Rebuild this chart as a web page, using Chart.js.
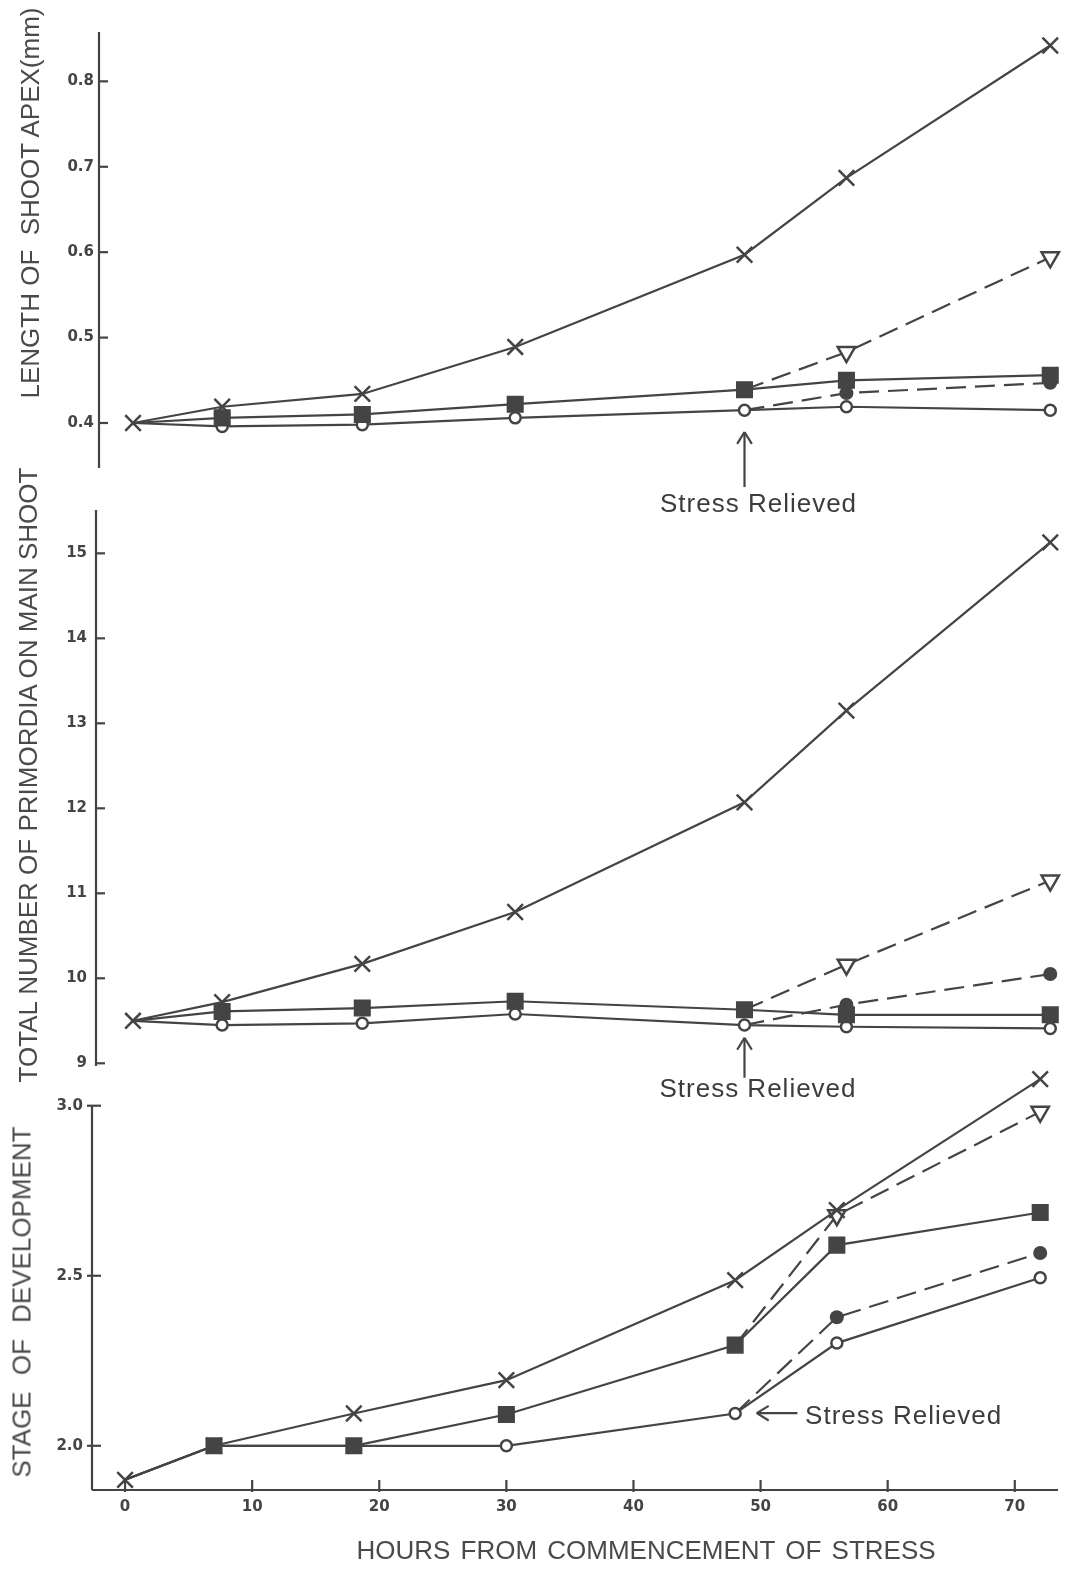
<!DOCTYPE html>
<html>
<head>
<meta charset="utf-8">
<title>Shoot apex growth after stress</title>
<script src="https://cdn.jsdelivr.net/npm/chart.js@4.4.1/dist/chart.umd.min.js"></script>
<style>
    html, body { margin: 0; padding: 0; background: #ffffff; }
    #page { position: relative; width: 1068px; height: 1570px; overflow: hidden; background: #ffffff; }
    #page canvas { position: absolute; left: 0; top: 0; }
    .ytitle, .xtitle {
        position: absolute;
        font-family: "Liberation Sans", Arial, sans-serif;
        font-size: 26px;
        color: #4a4a4a;
        white-space: nowrap;
    }
    .ytitle { transform: translate(-50%, -50%) rotate(-90deg); }
    .xtitle { transform: translate(-50%, -50%); word-spacing: 3px; }
</style>
</head>
<body>
<div id="page">
    <canvas id="apex-chart" width="1068" height="1570"></canvas>
    <canvas id="primordia-chart" width="1068" height="1570"></canvas>
    <canvas id="stage-chart" width="1068" height="1570"></canvas>
    <div class="ytitle" style="left:30px; top:203px;">LENGTH OF&nbsp; SHOOT APEX(mm)</div>
    <div class="ytitle" style="left:28px; top:775px;">TOTAL NUMBER OF PRIMORDIA ON MAIN SHOOT</div>
    <div class="ytitle" style="left:22px; top:1302px; word-spacing:9px;">STAGE OF DEVELOPMENT</div>
    <div class="xtitle" style="left:646px; top:1550px;">HOURS FROM COMMENCEMENT OF STRESS</div>
</div>
<script>
"use strict";

// hours at which samples were taken; the relief branches start at 48 h
const hours = [0, 7, 18, 30, 48, 56, 72];
const reliefHours = [48, 56, 72];

// length of shoot apex (mm)
const apexCross = [0.400, 0.419, 0.434, 0.489, 0.597, 0.687, 0.842];
const apexSquare = [0.400, 0.406, 0.410, 0.422, 0.439, 0.450, 0.456];
const apexCircle = [0.400, 0.396, 0.398, 0.406, 0.415, 0.419, 0.415];
const apexTriangle = [0.483, 0.594];
const apexDot = [0.435, 0.447];

// total number of primordia on main shoot
const primCross = [9.50, 9.72, 10.17, 10.78, 12.07, 13.15, 15.13];
const primSquare = [9.50, 9.61, 9.65, 9.73, 9.63, 9.57, 9.57];
const primCircle = [9.50, 9.45, 9.47, 9.58, 9.45, 9.43, 9.41];
const primTriangle = [10.16, 11.15];
const primDot = [9.69, 10.05];

// stage of development
const stageCross = [1.90, 2.00, 2.095, 2.193, 2.487, 2.693, 3.078];
const stageSquare = [1.90, 2.00, 2.00, 2.092, 2.296, 2.590, 2.686];
const stageCircle = [1.90, 2.00, 2.00, 2.00, 2.095, 2.302, 2.494];
const stageTriangle = [2.678, 2.982];
const stageDot = [2.378, 2.567];

// tick labels
const hourTicks = [0, 10, 20, 30, 40, 50, 60, 70];
const apexTicks = [0.4, 0.5, 0.6, 0.7, 0.8];
const primTicks = [9, 10, 11, 12, 13, 14, 15];
const stageTicks = [2.0, 2.5, 3.0];

const noteText = "Stress Relieved";
const ink = "#444444";

const markers = {
    cross:    { pointStyle: "crossRot", pointRadius: 11, pointBorderWidth: 2.5, pointBackgroundColor: ink },
    square:   { pointStyle: "rect", pointRadius: 11, pointBorderWidth: 1.5, pointBackgroundColor: ink },
    circle:   { pointStyle: "circle", pointRadius: 5.5, pointBorderWidth: 2.5, pointBackgroundColor: "#ffffff" },
    dot:      { pointStyle: "circle", pointRadius: 7, pointBorderWidth: 0, pointBackgroundColor: ink },
    triangle: { pointStyle: "triangle", pointRadius: 10, pointBorderWidth: 2.5, pointBackgroundColor: "#ffffff", pointRotation: 180 }
};

/**
 * Builds a line dataset. hideFirst drops the marker of the first point
 * (the shared start at 0 h, or the branch start at 48 h)
 */
function lineSet(points, marker, dashed, hideFirst) {
    let m = markers[marker];
    return Object.assign({}, m, {
        data: points,
        borderColor: ink,
        borderWidth: 2.2,
        borderDash: dashed ? [20, 9] : [],
        pointBorderColor: ink,
        pointRadius: ctx => (hideFirst && ctx.dataIndex === 0) ? 0 : m.pointRadius,
        fill: false,
        tension: 0,
        clip: false
    });
}

function mainPoints(values) {
    return hours.map((h, i) => ({ x: h, y: values[i] }));
}

// branch series start from a value of an existing series at 48 h
function branchPoints(startValue, values) {
    return reliefHours.map((h, i) => ({ x: h, y: i === 0 ? startValue : values[i - 1] }));
}

// Chart.js paints the first dataset last, so the cross ends up on top
function panelDatasets(cross, square, circle, triangle, dot) {
    let at48 = hours.indexOf(reliefHours[0]);
    return [
        lineSet(mainPoints(cross), "cross", false, false),
        lineSet(mainPoints(square), "square", false, true),
        lineSet(mainPoints(circle), "circle", false, true),
        lineSet(branchPoints(circle[at48], dot), "dot", true, true),
        lineSet(branchPoints(square[at48], triangle), "triangle", true, true)
    ];
}

function stroke(ctx, x1, y1, x2, y2) {
    ctx.beginPath();
    ctx.moveTo(x1, y1);
    ctx.lineTo(x2, y2);
    ctx.stroke();
}

/**
 * Draws an open arrow and the "Stress Relieved" note, placed in data units
 */
function drawNote(ctx, xs, ys, note) {
    let tx = xs.getPixelForValue(note.tail[0]), ty = ys.getPixelForValue(note.tail[1]);
    let hx = xs.getPixelForValue(note.tip[0]), hy = ys.getPixelForValue(note.tip[1]);
    stroke(ctx, tx, ty, hx, hy);
    let ang = Math.atan2(hy - ty, hx - tx);
    [-1, 1].forEach(s => {
        let a = ang + Math.PI + s * 0.55;
        stroke(ctx, hx, hy, hx + 14 * Math.cos(a), hy + 14 * Math.sin(a));
    });
    ctx.font = '26px "Liberation Sans", Arial, sans-serif';
    ctx.letterSpacing = "1px";
    ctx.textAlign = note.align;
    ctx.textBaseline = "middle";
    ctx.fillStyle = "#3c3c3c";
    ctx.fillText(noteText, xs.getPixelForValue(note.at[0]), ys.getPixelForValue(note.at[1]));
}

// axis lines with inward ticks, drawn in the style of the original figure
const panelAxes = {
    id: "panelAxes",
    beforeDatasetsDraw(chart, args, opts) {
        let ctx = chart.ctx, area = chart.chartArea;
        let xs = chart.scales.x, ys = chart.scales.y;
        ctx.save();
        ctx.strokeStyle = ink;
        ctx.lineWidth = 2.2;
        let top = (opts.axisTop == null) ? area.top : ys.getPixelForValue(opts.axisTop);
        stroke(ctx, area.left, top, area.left, area.bottom);
        ys.ticks.forEach(t => {
            let py = ys.getPixelForValue(t.value);
            stroke(ctx, area.left - opts.tickOut, py, area.left + 9, py);
        });
        if (opts.xAxis) {
            stroke(ctx, area.left, area.bottom, area.right, area.bottom);
            xs.ticks.forEach(t => {
                let px = xs.getPixelForValue(t.value);
                stroke(ctx, px, area.bottom + 2, px, area.bottom - 10);
            });
        }
        if (opts.note) drawNote(ctx, xs, ys, opts.note);
        ctx.restore();
    }
};

const tickFont = { family: "DejaVu Sans", weight: "bold", size: 15 };

function buildPanel(canvasId, p) {
    return new Chart(document.getElementById(canvasId), {
        type: "line",
        data: { datasets: p.datasets },
        options: {
            responsive: false,
            animation: false,
            events: [],
            devicePixelRatio: 1,
            layout: { autoPadding: false, padding: { top: p.top, bottom: p.bottom, left: 0, right: 1068 - p.right } },
            plugins: {
                legend: { display: false },
                tooltip: { enabled: false },
                panelAxes: p.axes
            },
            scales: {
                x: {
                    type: "linear",
                    min: p.xMin,
                    max: p.xMax,
                    display: p.showX,
                    grid: { display: false, drawTicks: false },
                    border: { display: false },
                    afterFit: s => { s.height = p.xHeight; },
                    afterBuildTicks: s => { s.ticks = hourTicks.map(v => ({ value: v })); },
                    ticks: { padding: 8, color: ink, font: tickFont, maxRotation: 0 }
                },
                y: {
                    type: "linear",
                    min: p.yMin,
                    max: p.yMax,
                    grid: { display: false, drawTicks: false },
                    border: { display: false },
                    afterFit: s => { s.width = p.left; },
                    afterBuildTicks: s => { s.ticks = p.yTicks.map(v => ({ value: v })); },
                    ticks: { padding: p.labelPad, color: ink, font: tickFont, callback: p.format }
                }
            }
        },
        plugins: [panelAxes]
    });
}

buildPanel("apex-chart", {
    datasets: panelDatasets(apexCross, apexSquare, apexCircle, apexTriangle, apexDot),
    top: 32, bottom: 1570 - 468, left: 99, right: 1063,
    xMin: -2.67, xMax: 73.0, showX: false, xHeight: 0,
    yMin: 0.3473, yMax: 0.8578, yTicks: apexTicks, labelPad: 5,
    format: v => v.toFixed(1),
    axes: { tickOut: 0, xAxis: false,
            note: { tail: [48, 0.325], tip: [48, 0.3895], at: [49.1, 0.304], align: "center" } }
});

buildPanel("primordia-chart", {
    datasets: panelDatasets(primCross, primSquare, primCircle, primTriangle, primDot),
    top: 510, bottom: 1570 - 1066, left: 96, right: 1063,
    xMin: -2.9, xMax: 73.0, showX: false, xHeight: 0,
    yMin: 8.968, yMax: 15.51, yTicks: primTicks, labelPad: 9,
    format: v => String(v),
    axes: { tickOut: 0, xAxis: false,
            note: { tail: [48, 8.83], tip: [48, 9.30], at: [49.06, 8.686], align: "center" } }
});

buildPanel("stage-chart", {
    datasets: panelDatasets(stageCross, stageSquare, stageCircle, stageTriangle, stageDot),
    top: 1070, bottom: 0, left: 92, right: 1058,
    xMin: -2.6, xMax: 73.4, showX: true, xHeight: 80,
    yMin: 1.870, yMax: 3.105, yTicks: stageTicks, labelPad: 9,
    format: v => v.toFixed(1),
    axes: { tickOut: 5, xAxis: true, axisTop: 3.0,
            note: { tail: [52.9, 2.096], tip: [49.7, 2.096], at: [53.5, 2.084], align: "left" } }
});
</script>
</body>
</html>
